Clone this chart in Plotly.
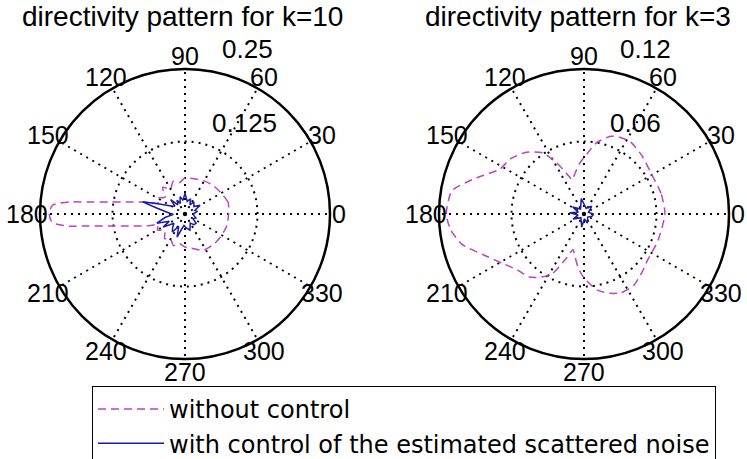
import math
import plotly.graph_objects as go

W, H = 747, 459

# ---- data: k = 10 ----
k10_theta_wo = [0, 15, 30, 45, 60, 75, 90, 100, 110, 120, 130, 140, 150, 158, 162, 165, 168, 171, 173, 174, 176, 177, 180,
                183, 184, 186, 187, 189, 192, 195, 198, 202, 210, 220, 230, 240, 250, 260, 270, 285, 297, 315, 327, 345, 360]
k10_r_wo = [0.075, 0.077, 0.072, 0.069, 0.066, 0.063, 0.062, 0.055, 0.060, 0.050, 0.060, 0.045, 0.055, 0.050, 0.065, 0.080, 0.100, 0.133, 0.170, 0.200, 0.228, 0.231, 0.234,
            0.231, 0.228, 0.200, 0.170, 0.133, 0.100, 0.080, 0.065, 0.050, 0.055, 0.045, 0.055, 0.050, 0.058, 0.052, 0.057, 0.062, 0.070, 0.072, 0.073, 0.075, 0.075]

k10_theta_w = [0, 12, 20, 30, 40, 54, 62, 70, 80, 90, 98, 106, 114, 120, 128, 135, 142, 150, 158, 164, 168, 175, 182,
               190, 198, 205, 211, 220, 228, 235, 243, 251, 258, 265, 275, 287, 300, 310, 320, 330, 340, 350, 360]
k10_r_w = [0.014, 0.022, 0.018, 0.030, 0.020, 0.026, 0.018, 0.028, 0.022, 0.036, 0.024, 0.031, 0.020, 0.026, 0.020, 0.035, 0.022, 0.028, 0.045, 0.076, 0.050, 0.030, 0.020,
           0.035, 0.051, 0.030, 0.044, 0.025, 0.032, 0.038, 0.024, 0.042, 0.026, 0.020, 0.024, 0.029, 0.018, 0.024, 0.025, 0.016, 0.020, 0.016, 0.014]

# ---- data: k = 3 ----
k3_theta_wo = [0, 15, 32, 45, 57, 65, 71, 80, 87, 95, 103, 109, 113, 118, 124, 133, 143, 152, 162, 170, 180,
               187, 194, 202, 211, 220, 229, 236, 242, 248, 253, 258, 264, 270, 280, 288, 295, 305, 315, 324, 340, 360]
k3_r_wo = [0.067, 0.066, 0.065, 0.068, 0.071, 0.070, 0.068, 0.060, 0.050, 0.042, 0.034, 0.030, 0.036, 0.048, 0.061, 0.070, 0.076, 0.079, 0.095, 0.111, 0.114,
           0.111, 0.104, 0.090, 0.079, 0.072, 0.069, 0.063, 0.056, 0.040, 0.031, 0.036, 0.045, 0.053, 0.064, 0.069, 0.072, 0.072, 0.068, 0.065, 0.065, 0.067]

k3_theta_w = [0, 20, 45, 70, 100, 125, 148, 162, 175, 190, 205, 230, 260, 275, 290, 320, 345, 360]
k3_r_w = [0.008, 0.004, 0.009, 0.005, 0.013, 0.005, 0.011, 0.005, 0.012, 0.005, 0.010, 0.004, 0.011, 0.004, 0.008, 0.004, 0.007, 0.008]

angle_ticks = list(range(0, 360, 30))
angle_labels = [str(a) for a in angle_ticks]
k10_rticks = [0.125, 0.25]
k10_rlabels = ["0.125", "0.25"]
k3_rticks = [0.06, 0.12]
k3_rlabels = ["0.06", "0.12"]

titles = ["directivity pattern for k=10", "directivity pattern for k=3"]
names = ["without control", "with control of the estimated scattered noise"]

MAG = "#c040c8"
BLU = "#1a1aa8"
FONT = "Liberation Sans, Arial, sans-serif"
LFONT = "DejaVu Sans, sans-serif"

# geometry of the two polar discs (pixels)
CY = 214
R = 145
CX = [185, 584]

fig = go.Figure()
fig.add_trace(go.Scatterpolar(theta=k10_theta_wo, r=k10_r_wo, mode="lines", name=names[0],
                              line=dict(color=MAG, width=1.5, dash="8px,5px", shape="spline", smoothing=0.6),
                              subplot="polar"))
fig.add_trace(go.Scatterpolar(theta=k10_theta_w, r=k10_r_w, mode="lines", name=names[1],
                              line=dict(color=BLU, width=1.5), subplot="polar"))
fig.add_trace(go.Scatterpolar(theta=k3_theta_wo, r=k3_r_wo, mode="lines", name=names[0], showlegend=False,
                              line=dict(color=MAG, width=1.5, dash="8px,5px", shape="spline", smoothing=0.6),
                              subplot="polar2"))
fig.add_trace(go.Scatterpolar(theta=k3_theta_w, r=k3_r_w, mode="lines", name=names[1], showlegend=False,
                              line=dict(color=BLU, width=1.5), subplot="polar2"))


def polar_layout(cx, rmax, rticks):
    return dict(
        domain=dict(x=[(cx - R) / W, (cx + R) / W], y=[(H - CY - R) / H, (H - CY + R) / H]),
        bgcolor="white",
        angularaxis=dict(
            direction="counterclockwise", rotation=0,
            tickmode="array", tickvals=angle_ticks, ticktext=angle_labels,
            showline=True, linecolor="black", linewidth=2.5,
            showgrid=True, gridcolor="black", gridwidth=2, griddash="2px,5px",
            ticks="", showticklabels=False,
        ),
        radialaxis=dict(
            range=[0, rmax], tickmode="array", tickvals=rticks,
            showline=False, showticklabels=False, ticks="",
            showgrid=True, gridcolor="black", gridwidth=2, griddash="2px,5px",
        ),
    )


fig.update_layout(
    width=W, height=H,
    margin=dict(l=0, r=0, t=0, b=0, autoexpand=False),
    paper_bgcolor="white",
    font=dict(family=FONT, color="black"),
    polar=polar_layout(CX[0], 0.25, k10_rticks),
    polar2=polar_layout(CX[1], 0.12, k3_rticks),
    showlegend=True,
    legend=dict(x=92 / W, y=1 - 386 / H, xanchor="left", yanchor="top",
                bgcolor="white", bordercolor="black", borderwidth=1,
                font=dict(family=LFONT, size=24, color="black"),
                tracegroupgap=0, itemwidth=66),
)

ann = []
for txt, xc in zip(titles, [182, 578]):
    ann.append(dict(text=txt, x=xc / W, y=1 - 16 / H, xref="paper", yref="paper",
                    xanchor="center", yanchor="middle", showarrow=False,
                    font=dict(family=FONT, size=28, color="black")))
# angular tick labels, MATLAB style: centred just outside the outer circle
for cx in CX:
    for a, lab in zip(angle_ticks, angle_labels):
        f = 1.06 if a == 0 else 1.09
        px = cx + f * R * math.cos(math.radians(a))
        py = CY - f * R * math.sin(math.radians(a))
        ann.append(dict(text=lab, x=px / W, y=1 - py / H, xref="paper", yref="paper",
                        xanchor="center", yanchor="middle", showarrow=False,
                        font=dict(family=FONT, size=25, color="black")))
rl_pos = [(k10_rlabels[1], 220, 49), (k10_rlabels[0], 210, 123),
          (k3_rlabels[1], 618, 49), (k3_rlabels[0], 608, 123)]
for txt, px, py in rl_pos:
    ann.append(dict(text=txt, x=px / W, y=1 - py / H, xref="paper", yref="paper",
                    xanchor="left", yanchor="middle", showarrow=False,
                    font=dict(family=FONT, size=26, color="black")))
fig.update_layout(annotations=ann)

fig.write_html("out.html")
